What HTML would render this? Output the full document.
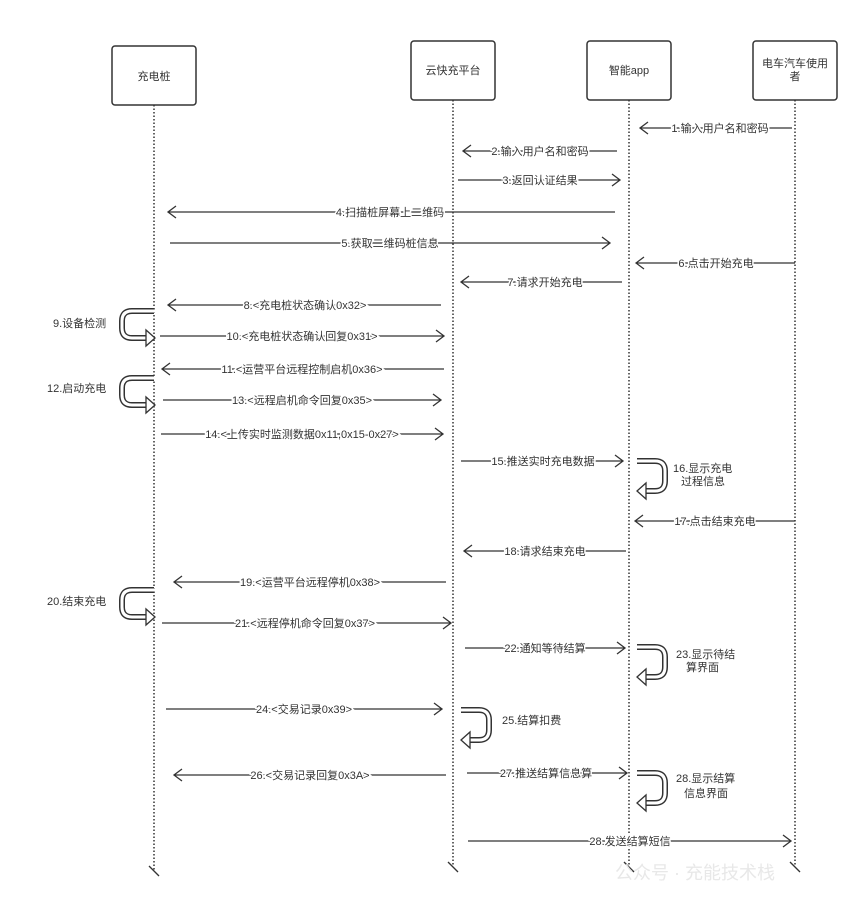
<!DOCTYPE html>
<html><head><meta charset="utf-8"><style>
html,body{margin:0;padding:0;background:#fff}
svg{display:block}
text{font-family:"Liberation Sans","Noto Sans CJK SC",sans-serif;font-size:11px;fill:#333}
.lb{paint-order:stroke;stroke:#fff;stroke-width:3px;text-anchor:middle}
.ln{stroke:#333;stroke-width:1.3;fill:none}
.ll{stroke:#333;stroke-width:1.5;stroke-dasharray:1.5 2;fill:none}
.bx{fill:#fff;stroke:#333;stroke-width:1.5}
.lo{stroke:#333;stroke-width:6;fill:none}
.li{stroke:#fff;stroke-width:3;fill:none}
.ah{fill:#fff;stroke:#333;stroke-width:1.3}
</style></head><body>
<svg width="865" height="907" viewBox="0 0 865 907">
<line class="ll" x1="154" y1="105" x2="154" y2="870"/>
<line class="ll" x1="453" y1="100" x2="453" y2="866"/>
<line class="ll" x1="629" y1="100" x2="629" y2="866"/>
<line class="ll" x1="795" y1="100" x2="795" y2="866"/>
<g class="ln"><path d="M149,866 l10,10"/><path d="M448,862 l10,10"/><path d="M624,862 l10,10"/><path d="M790,862 l10,10"/></g>
<rect class="bx" x="112" y="46" width="84" height="59" rx="3"/>
<rect class="bx" x="411" y="41" width="84" height="59" rx="3"/>
<rect class="bx" x="587" y="41" width="84" height="59" rx="3"/>
<rect class="bx" x="753" y="41" width="84" height="59" rx="3"/>
<text x="154" y="80" text-anchor="middle">充电桩</text>
<text x="453" y="74" text-anchor="middle">云快充平台</text>
<text x="629" y="74" text-anchor="middle">智能app</text>
<text x="795" y="67" text-anchor="middle">电车汽车使用</text>
<text x="795" y="80" text-anchor="middle">者</text>
<g class="ln">
<path d="M792,128H640M648,122l-8,6l8,6"/>
<path d="M617,151H463M471,145l-8,6l8,6"/>
<path d="M458,180H620M612,174l8,6l-8,6"/>
<path d="M615,212H168M176,206l-8,6l8,6"/>
<path d="M170,243H610M602,237l8,6l-8,6"/>
<path d="M795,263H636M644,257l-8,6l8,6"/>
<path d="M622,282H461M469,276l-8,6l8,6"/>
<path d="M441,305H168M176,299l-8,6l8,6"/>
<path d="M160,336H444M436,330l8,6l-8,6"/>
<path d="M444,369H162M170,363l-8,6l8,6"/>
<path d="M163,400H441M433,394l8,6l-8,6"/>
<path d="M161,434H443M435,428l8,6l-8,6"/>
<path d="M461,461H623M615,455l8,6l-8,6"/>
<path d="M795,521H635M643,515l-8,6l8,6"/>
<path d="M626,551H464M472,545l-8,6l8,6"/>
<path d="M446,582H174M182,576l-8,6l8,6"/>
<path d="M162,623H451M443,617l8,6l-8,6"/>
<path d="M465,648H625M617,642l8,6l-8,6"/>
<path d="M166,709H442M434,703l8,6l-8,6"/>
<path d="M446,775H174M182,769l-8,6l8,6"/>
<path d="M467,773H627M619,767l8,6l-8,6"/>
<path d="M468,841H791M783,835l8,6l-8,6"/>
</g>
<g>
<text class="lb" x="720" y="132">1.输入用户名和密码</text>
<text class="lb" x="540" y="155">2.输入用户名和密码</text>
<text class="lb" x="540" y="184">3.返回认证结果</text>
<text class="lb" x="390" y="216">4.扫描桩屏幕上二维码</text>
<text class="lb" x="390" y="247">5.获取二维码桩信息</text>
<text class="lb" x="716" y="267">6.点击开始充电</text>
<text class="lb" x="545" y="286">7.请求开始充电</text>
<text class="lb" x="305" y="309">8.&lt;充电桩状态确认0x32&gt;</text>
<text class="lb" x="302" y="340">10.&lt;充电桩状态确认回复0x31&gt;</text>
<text class="lb" x="302" y="373">11.&lt;运营平台远程控制启机0x36&gt;</text>
<text class="lb" x="302" y="404">13.&lt;远程启机命令回复0x35&gt;</text>
<text class="lb" x="302" y="438">14.&lt;上传实时监测数据0x11,0x15-0x27&gt;</text>
<text class="lb" x="543" y="465">15.推送实时充电数据</text>
<text class="lb" x="715" y="525">17.点击结束充电</text>
<text class="lb" x="545" y="555">18.请求结束充电</text>
<text class="lb" x="310" y="586">19.&lt;运营平台远程停机0x38&gt;</text>
<text class="lb" x="305" y="627">21.&lt;远程停机命令回复0x37&gt;</text>
<text class="lb" x="545" y="652">22.通知等待结算</text>
<text class="lb" x="304" y="713">24.&lt;交易记录0x39&gt;</text>
<text class="lb" x="310" y="779">26.&lt;交易记录回复0x3A&gt;</text>
<text class="lb" x="546" y="777">27.推送结算信息算</text>
<text class="lb" x="630" y="845">28.发送结算短信</text>
</g>
<g id="L1">
<path class="lo" d="M154,311H132Q122,311 122,321V328Q122,338 132,338H146"/>
<path class="li" d="M155,311H132Q122,311 122,321V328Q122,338 132,338H147"/>
<polygon class="ah" points="155,338 146,330 146,346"/>
</g>
<use href="#L1" y="67"/>
<use href="#L1" y="279"/>
<text x="53" y="327">9.设备检测</text>
<text x="47" y="392">12.启动充电</text>
<text x="47" y="605">20.结束充电</text>
<g id="R1">
<path class="lo" d="M637,461H655Q665,461 665,471V481Q665,491 655,491H646"/>
<path class="li" d="M636,461H655Q665,461 665,471V481Q665,491 655,491H645"/>
<polygon class="ah" points="637,491 646,483 646,499"/>
</g>
<use href="#R1" y="186"/>
<use href="#R1" y="312"/>
<use href="#R1" x="-176" y="249"/>
<text x="673" y="472">16.显示充电</text>
<text x="681" y="485">过程信息</text>
<text x="676" y="658">23.显示待结</text>
<text x="686" y="671">算界面</text>
<text x="502" y="724">25.结算扣费</text>
<text x="676" y="782">28.显示结算</text>
<text x="684" y="797">信息界面</text>
<text x="615" y="879" style="font-size:18px;fill:#e8e8e8">公众号 · 充能技术栈</text>
</svg>
</body></html>
